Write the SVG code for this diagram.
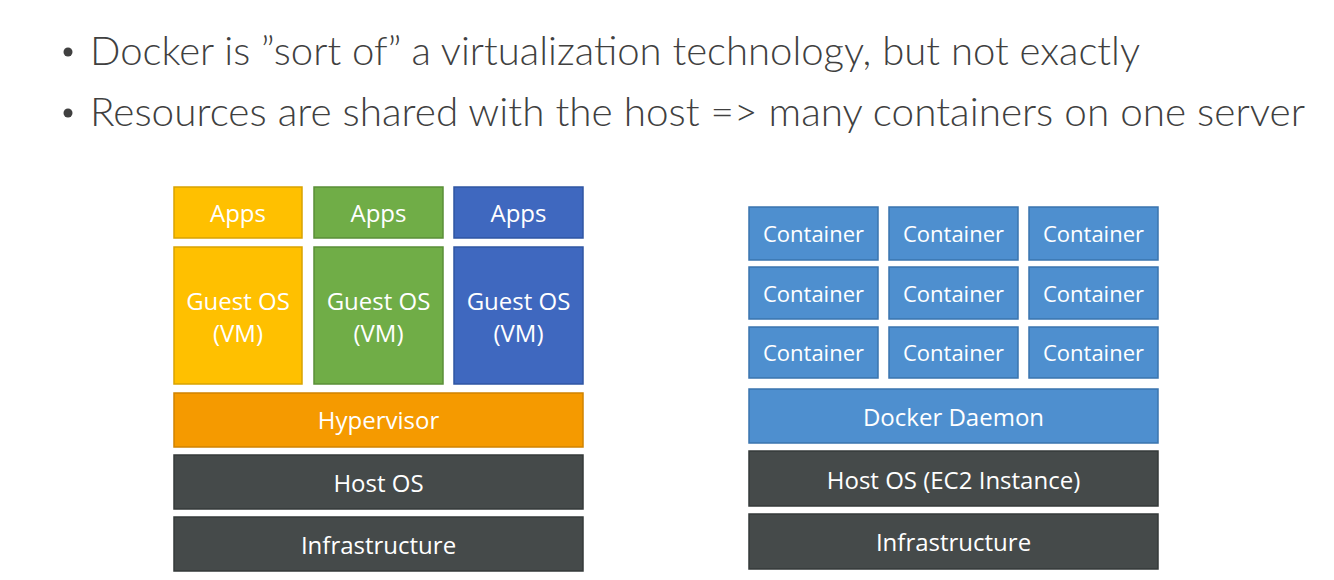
<svg xmlns="http://www.w3.org/2000/svg" width="1334" height="580" viewBox="0 0 1334 580">
<style>
.hdr{font-family:"Lato","Open Sans","Liberation Sans",sans-serif;font-size:40px;fill:#404040;font-weight:300}
.lbl{font-family:"Open Sans","Noto Sans","Liberation Sans",sans-serif;font-size:24px;fill:#ffffff;text-anchor:middle}
.cl{font-size:22px}
.yel{fill:#FFC000;stroke:#D9A300;stroke-width:1.5}
.grn{fill:#70AD47;stroke:#5A8F37;stroke-width:1.5}
.blu{fill:#3F68BF;stroke:#2F55A3;stroke-width:1.5}
.org{fill:#F59A00;stroke:#D08300;stroke-width:1.5}
.drk{fill:#454A4A;stroke:#353a3a;stroke-width:1.5}
.ctn{fill:#4E8FCF;stroke:#3A74AE;stroke-width:1.5}
</style>
<rect width="1334" height="580" fill="#ffffff"/>
<g id="header">
<circle cx="68" cy="52" r="4.5" fill="#404040"/>
<text class="hdr" x="90" y="65" textLength="1050" lengthAdjust="spacingAndGlyphs">Docker is ”sort of” a virtualization technology, but not exactly</text>
<circle cx="68" cy="113" r="4.5" fill="#404040"/>
<text class="hdr" x="90" y="126" textLength="1215" lengthAdjust="spacingAndGlyphs">Resources are shared with the host =&gt; many containers on one server</text>
</g>
<g id="apps1"><rect class="yel" x="174" y="187" width="128" height="51"/><text class="lbl" x="238" y="222">Apps</text></g>
<g id="apps2"><rect class="grn" x="314" y="187" width="129" height="51"/><text class="lbl" x="378.5" y="222">Apps</text></g>
<g id="apps3"><rect class="blu" x="454" y="187" width="129" height="51"/><text class="lbl" x="518.5" y="222">Apps</text></g>
<g id="guest1"><rect class="yel" x="174" y="247" width="128" height="137"/><text class="lbl" x="238" y="310">Guest OS</text><text class="lbl" x="238" y="342">(VM)</text></g>
<g id="guest2"><rect class="grn" x="314" y="247" width="129" height="137"/><text class="lbl" x="378.5" y="310">Guest OS</text><text class="lbl" x="378.5" y="342">(VM)</text></g>
<g id="guest3"><rect class="blu" x="454" y="247" width="129" height="137"/><text class="lbl" x="518.5" y="310">Guest OS</text><text class="lbl" x="518.5" y="342">(VM)</text></g>
<g id="hypervisor"><rect class="org" x="174" y="393" width="409" height="54"/><text class="lbl" x="378.5" y="429">Hypervisor</text></g>
<g id="hostos-left"><rect class="drk" x="174" y="455" width="409" height="54"/><text class="lbl" x="378.5" y="492">Host OS</text></g>
<g id="infra-left"><rect class="drk" x="174" y="517" width="409" height="54"/><text class="lbl" x="378.5" y="554">Infrastructure</text></g>
<g id="c11"><rect class="ctn" x="749" y="207" width="129" height="53"/><text class="lbl cl" x="813.5" y="242">Container</text></g>
<g id="c12"><rect class="ctn" x="889" y="207" width="129" height="53"/><text class="lbl cl" x="953.5" y="242">Container</text></g>
<g id="c13"><rect class="ctn" x="1029" y="207" width="129" height="53"/><text class="lbl cl" x="1093.5" y="242">Container</text></g>
<g id="c21"><rect class="ctn" x="749" y="267" width="129" height="52"/><text class="lbl cl" x="813.5" y="302">Container</text></g>
<g id="c22"><rect class="ctn" x="889" y="267" width="129" height="52"/><text class="lbl cl" x="953.5" y="302">Container</text></g>
<g id="c23"><rect class="ctn" x="1029" y="267" width="129" height="52"/><text class="lbl cl" x="1093.5" y="302">Container</text></g>
<g id="c31"><rect class="ctn" x="749" y="327" width="129" height="51"/><text class="lbl cl" x="813.5" y="361">Container</text></g>
<g id="c32"><rect class="ctn" x="889" y="327" width="129" height="51"/><text class="lbl cl" x="953.5" y="361">Container</text></g>
<g id="c33"><rect class="ctn" x="1029" y="327" width="129" height="51"/><text class="lbl cl" x="1093.5" y="361">Container</text></g>
<g id="daemon"><rect class="ctn" x="749" y="389" width="409" height="54"/><text class="lbl" x="953.5" y="426">Docker Daemon</text></g>
<g id="hostos-right"><rect class="drk" x="749" y="451" width="409" height="55"/><text class="lbl" x="953.5" y="489">Host OS (EC2 Instance)</text></g>
<g id="infra-right"><rect class="drk" x="749" y="514" width="409" height="55"/><text class="lbl" x="953.5" y="551">Infrastructure</text></g>
<g id="connectors"/>
</svg>
